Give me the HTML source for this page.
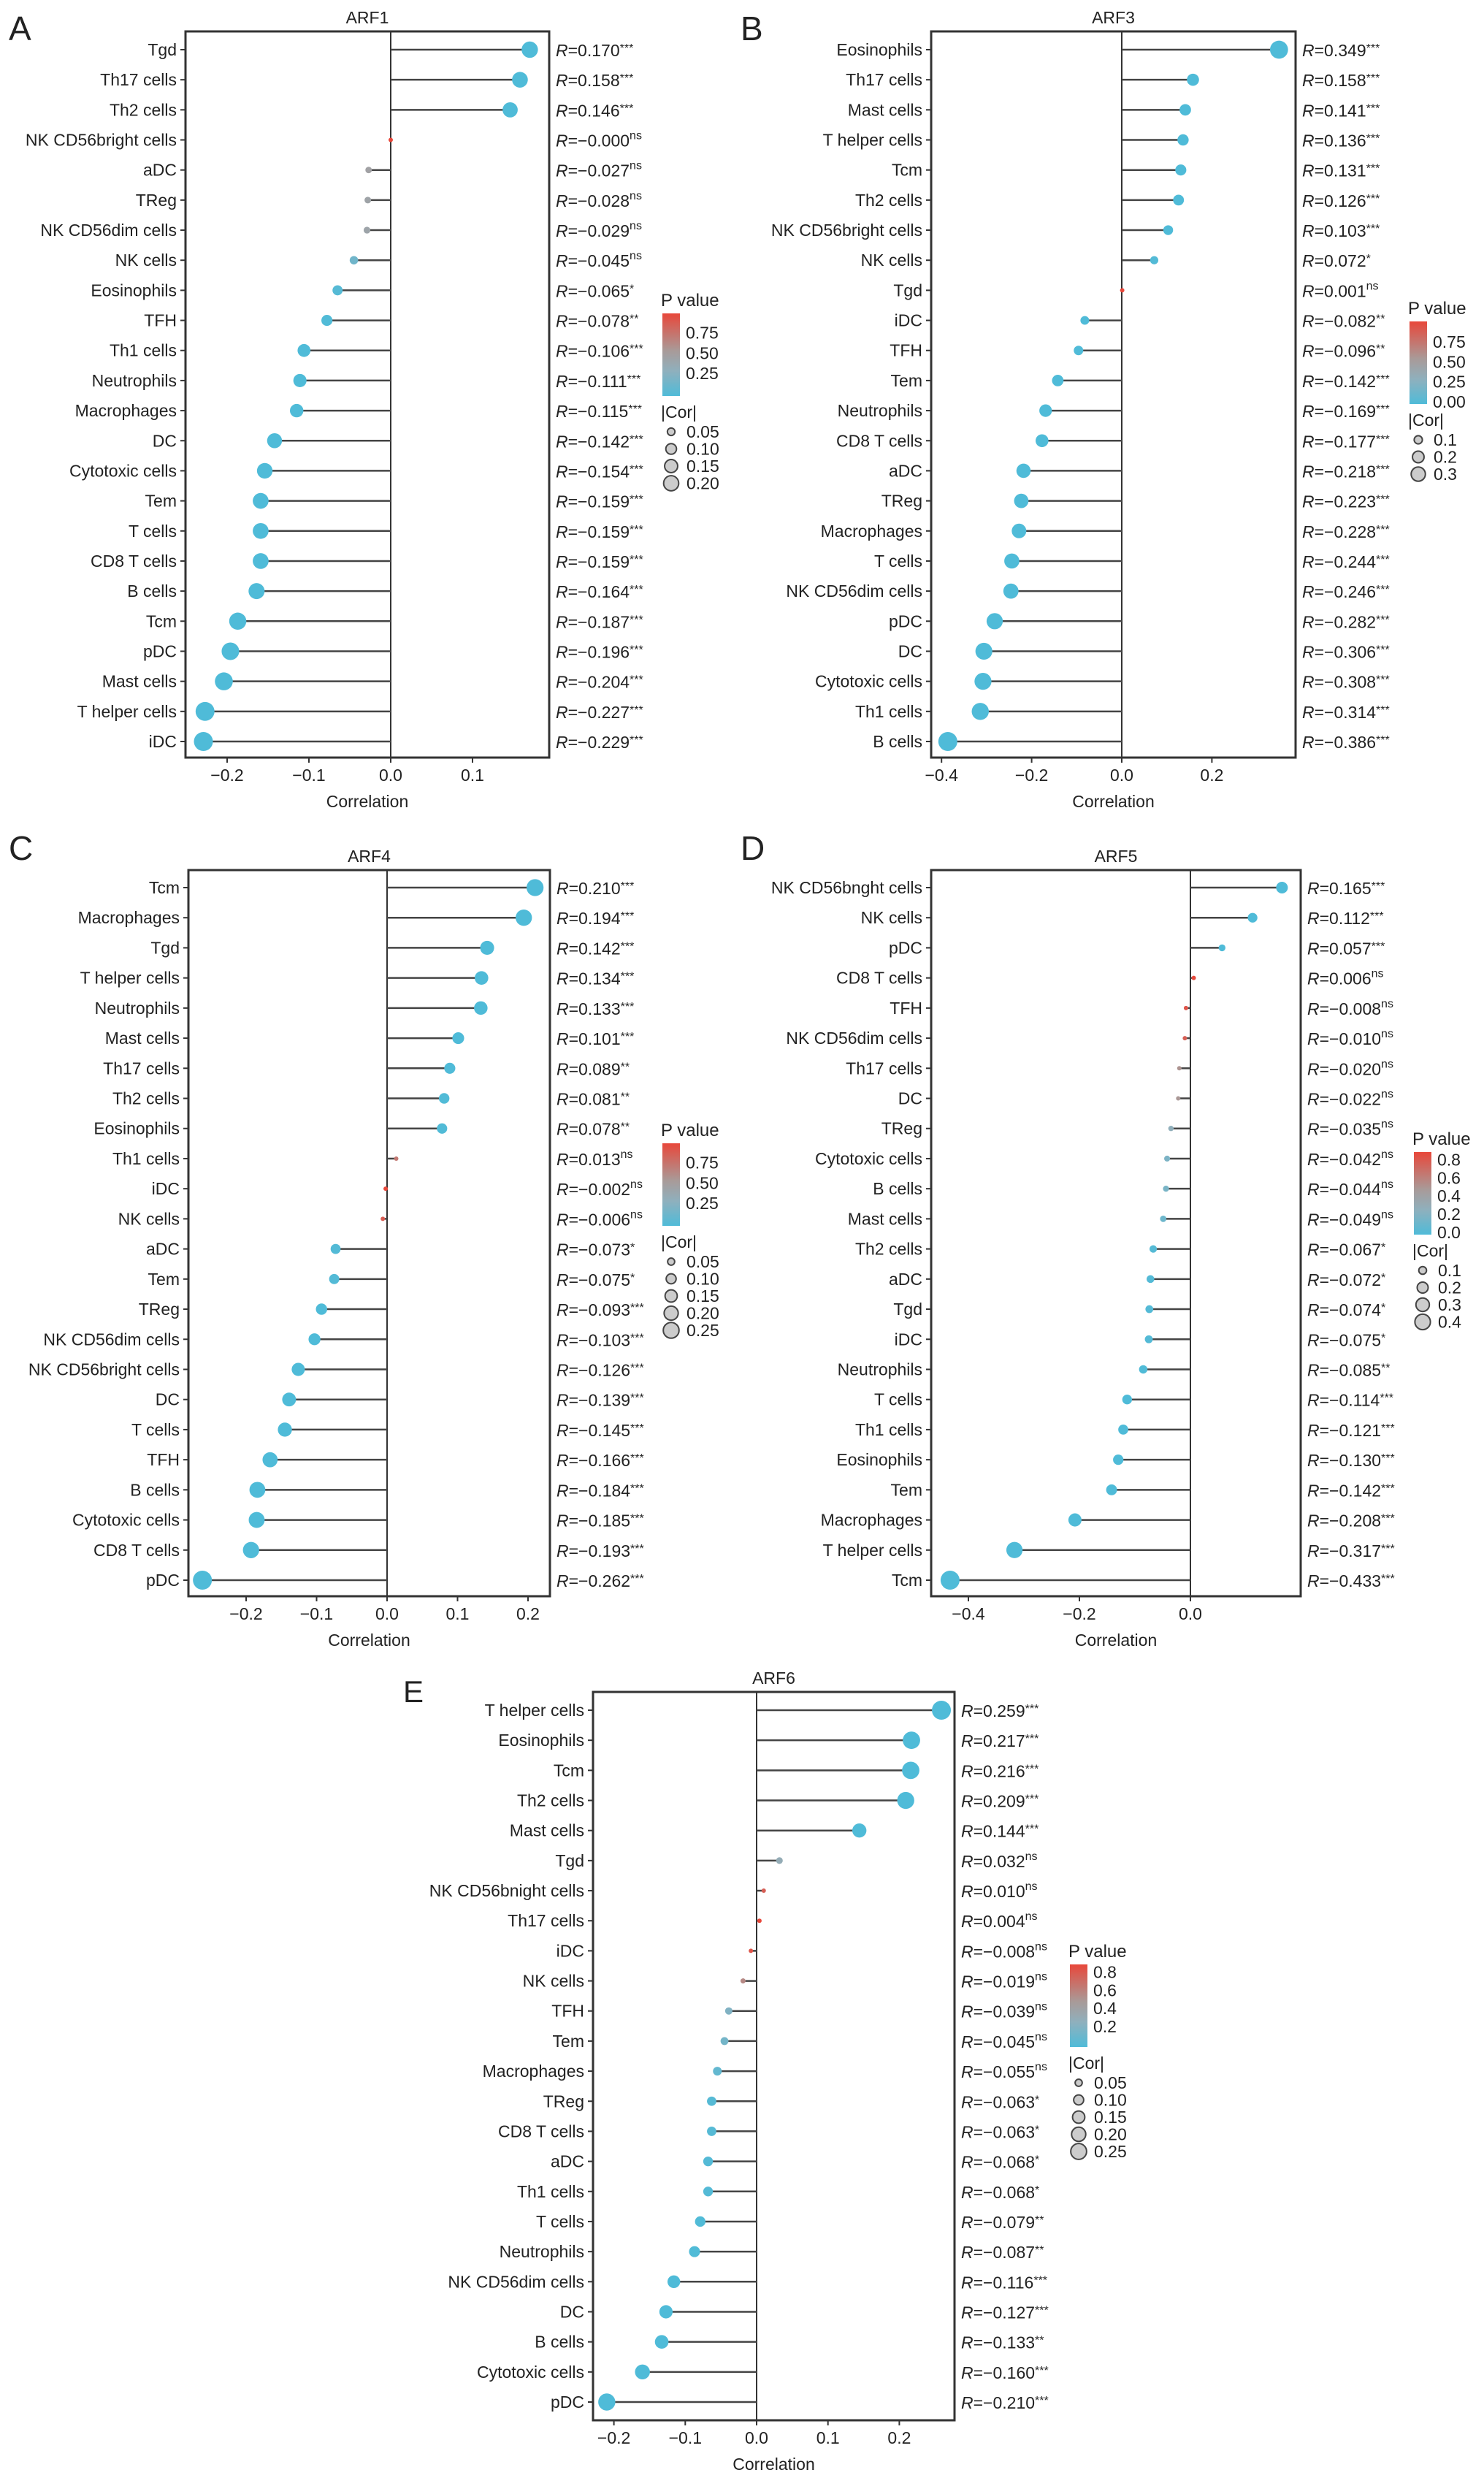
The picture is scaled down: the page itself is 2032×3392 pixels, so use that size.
<!DOCTYPE html>
<html><head><meta charset="utf-8"><style>
html,body{margin:0;padding:0;background:#fff}
svg{display:block}
text{font-family:"Liberation Sans",sans-serif;fill:#222}
.narrow text{font-family:"Liberation Sans Narrow","Liberation Sans",sans-serif}
</style></head><body>
<svg id="fig" width="2032" height="3392" viewBox="0 0 2032 3392" xmlns="http://www.w3.org/2000/svg">
<defs>
<linearGradient id="pgrad" x1="0" y1="1" x2="0" y2="0">
<stop offset="0" stop-color="#4fbbd8"/><stop offset="0.3" stop-color="#8fb0bd"/><stop offset="0.55" stop-color="#a99a98"/><stop offset="1" stop-color="#e8473a"/>
</linearGradient>
</defs>
</svg>
<script>
// ---------- Panel A : ARF1 ----------
const aCats=["Tgd","Th17 cells","Th2 cells","NK CD56bright cells","aDC","TReg","NK CD56dim cells","NK cells","Eosinophils","TFH","Th1 cells","Neutrophils","Macrophages","DC","Cytotoxic cells","Tem","T cells","CD8 T cells","B cells","Tcm","pDC","Mast cells","T helper cells","iDC"];
const aVals=[0.170,0.158,0.146,-0.000,-0.027,-0.028,-0.029,-0.045,-0.065,-0.078,-0.106,-0.111,-0.115,-0.142,-0.154,-0.159,-0.159,-0.159,-0.164,-0.187,-0.196,-0.204,-0.227,-0.229];
const aSig=["***","***","***","ns","ns","ns","ns","ns","*","**","***","***","***","***","***","***","***","***","***","***","***","***","***","***"];
const aP=[0,0,0,0.99,0.45,0.43,0.42,0.15,0.03,0.01,0,0,0,0,0,0,0,0,0,0,0,0,0,0];
const aTicks=[-0.2,-0.1,0.0,0.1];
const aPTicks=[0.25,0.50,0.75];
const aSizeTicks=[0.05,0.10,0.15,0.20];
// ---------- Panel B : ARF3 ----------
const bCats=["Eosinophils","Th17 cells","Mast cells","T helper cells","Tcm","Th2 cells","NK CD56bright cells","NK cells","Tgd","iDC","TFH","Tem","Neutrophils","CD8 T cells","aDC","TReg","Macrophages","T cells","NK CD56dim cells","pDC","DC","Cytotoxic cells","Th1 cells","B cells"];
const bVals=[0.349,0.158,0.141,0.136,0.131,0.126,0.103,0.072,0.001,-0.082,-0.096,-0.142,-0.169,-0.177,-0.218,-0.223,-0.228,-0.244,-0.246,-0.282,-0.306,-0.308,-0.314,-0.386];
const bSig=["***","***","***","***","***","***","***","*","ns","**","**","***","***","***","***","***","***","***","***","***","***","***","***","***"];
const bP=[0,0,0,0,0,0,0,0.02,0.98,0.005,0.003,0,0,0,0,0,0,0,0,0,0,0,0,0];
const bTicks=[-0.4,-0.2,0.0,0.2];
const bPTicks=[0.00,0.25,0.50,0.75];
const bSizeTicks=[0.1,0.2,0.3];
// ---------- Panel C : ARF4 ----------
const cCats=["Tcm","Macrophages","Tgd","T helper cells","Neutrophils","Mast cells","Th17 cells","Th2 cells","Eosinophils","Th1 cells","iDC","NK cells","aDC","Tem","TReg","NK CD56dim cells","NK CD56bright cells","DC","T cells","TFH","B cells","Cytotoxic cells","CD8 T cells","pDC"];
const cVals=[0.210,0.194,0.142,0.134,0.133,0.101,0.089,0.081,0.078,0.013,-0.002,-0.006,-0.073,-0.075,-0.093,-0.103,-0.126,-0.139,-0.145,-0.166,-0.184,-0.185,-0.193,-0.262];
const cSig=["***","***","***","***","***","***","**","**","**","ns","ns","ns","*","*","***","***","***","***","***","***","***","***","***","***"];
const cP=[0,0,0,0,0,0,0.005,0.008,0.01,0.7,0.95,0.85,0.02,0.02,0,0,0,0,0,0,0,0,0,0];
const cTicks=[-0.2,-0.1,0.0,0.1,0.2];
const cPTicks=[0.25,0.50,0.75];
const cSizeTicks=[0.05,0.10,0.15,0.20,0.25];
// ---------- Panel D : ARF5 ----------
const dCats=["NK CD56bnght cells","NK cells","pDC","CD8 T cells","TFH","NK CD56dim cells","Th17 cells","DC","TReg","Cytotoxic cells","B cells","Mast cells","Th2 cells","aDC","Tgd","iDC","Neutrophils","T cells","Th1 cells","Eosinophils","Tem","Macrophages","T helper cells","Tcm"];
const dVals=[0.165,0.112,0.057,0.006,-0.008,-0.010,-0.020,-0.022,-0.035,-0.042,-0.044,-0.049,-0.067,-0.072,-0.074,-0.075,-0.085,-0.114,-0.121,-0.130,-0.142,-0.208,-0.317,-0.433];
const dSig=["***","***","***","ns","ns","ns","ns","ns","ns","ns","ns","ns","*","*","*","*","**","***","***","***","***","***","***","***"];
const dP=[0,0,0,0.85,0.8,0.75,0.5,0.48,0.27,0.18,0.17,0.12,0.03,0.02,0.02,0.02,0.005,0,0,0,0,0,0,0];
const dTicks=[-0.4,-0.2,0.0];
const dPTicks=[0.0,0.2,0.4,0.6,0.8];
const dSizeTicks=[0.1,0.2,0.3,0.4];
// ---------- Panel E : ARF6 ----------
const eCats=["T helper cells","Eosinophils","Tcm","Th2 cells","Mast cells","Tgd","NK CD56bnight cells","Th17 cells","iDC","NK cells","TFH","Tem","Macrophages","TReg","CD8 T cells","aDC","Th1 cells","T cells","Neutrophils","NK CD56dim cells","DC","B cells","Cytotoxic cells","pDC"];
const eVals=[0.259,0.217,0.216,0.209,0.144,0.032,0.010,0.004,-0.008,-0.019,-0.039,-0.045,-0.055,-0.063,-0.063,-0.068,-0.068,-0.079,-0.087,-0.116,-0.127,-0.133,-0.160,-0.210];
const eSig=["***","***","***","***","***","ns","ns","ns","ns","ns","ns","ns","ns","*","*","*","*","**","**","***","***","**","***","***"];
const eP=[0,0,0,0,0,0.3,0.75,0.9,0.8,0.55,0.2,0.15,0.08,0.03,0.03,0.02,0.02,0.01,0.005,0,0,0.001,0,0];
const eTicks=[-0.2,-0.1,0.0,0.1,0.2];
const ePTicks=[0.2,0.4,0.6,0.8];
const eSizeTicks=[0.05,0.10,0.15,0.20,0.25];

const NS="http://www.w3.org/2000/svg";
const fig=document.getElementById('fig');
function mk(tag,attrs,parent){const e=document.createElementNS(NS,tag);for(const k in attrs)e.setAttribute(k,attrs[k]);(parent||fig).appendChild(e);return e;}
function lerp(a,b,t){return Math.round(a+(b-a)*t);}
function pColor(p,pmax){
  const stops=[[0,[79,187,216]],[0.3,[143,176,189]],[0.55,[169,154,152]],[1,[232,71,58]]];
  let t=Math.max(0,Math.min(1,p/pmax));
  for(let i=0;i<stops.length-1;i++){const [t0,c0]=stops[i],[t1,c1]=stops[i+1];
    if(t<=t1){const u=(t-t0)/(t1-t0);return `rgb(${lerp(c0[0],c1[0],u)},${lerp(c0[1],c1[1],u)},${lerp(c0[2],c1[2],u)})`;}}
  return 'rgb(232,71,58)';
}
function fmt(v){const s=Math.abs(v).toFixed(3);return (v<0||Object.is(v,-0)?'\u2212':'')+s;}
function tickFmt(v,dec){if(Math.abs(v)<1e-9)return (0).toFixed(dec);return (v<0?'\u2212':'')+Math.abs(v).toFixed(dec);}

function panel(o){
  const g=mk('g',{},fig);
  
  
  if(o.narrow)g.setAttribute('class','narrow');
  const n=o.cats.length;
  const x=v=>o.zx+v*o.unit*10;
  const y=i=>o.y0+i*(o.y1-o.y0)/(n-1);
  let maxc=0;o.vals.forEach(v=>maxc=Math.max(maxc,Math.abs(v)));
  const rad=c=>Math.max(3,o.rmax*Math.sqrt(Math.abs(c)/maxc));
  const L=mk('text',{x:o.lx,y:o.ly,'font-size':o.lfs||46},g);L.textContent=o.letter;
  
  const T=mk('text',{x:(o.left+o.right)/2,y:o.top-11,'font-size':23,'text-anchor':'middle'},g);T.textContent=o.title;
  
  const Z=mk('line',{x1:x(0),x2:x(0),y1:o.top,y2:o.bot,stroke:'#333','stroke-width':2},g);
  
  for(let i=0;i<n;i++){
    const yy=y(i);
    const lab=mk('text',{x:o.left-12,y:yy+8,'font-size':23,'text-anchor':'end'},g);lab.textContent=o.cats[i];
    
    const tk=mk('line',{x1:o.left-7,x2:o.left,y1:yy,y2:yy,stroke:'#333','stroke-width':2},g);
    
    const seg=mk('line',{x1:x(0),x2:x(o.vals[i]),y1:yy,y2:yy,stroke:'#444','stroke-width':2.5},g);
    
    const dot=mk('circle',{cx:x(o.vals[i]),cy:yy,r:rad(o.vals[i]),fill:pColor(o.p[i],o.pmax)},g);
    
    const rt=mk('text',{x:o.right+9,y:yy+9,'font-size':23},g);
    
    const r1=mk('tspan',{'font-style':'italic'},rt);r1.textContent='R';
    const r2=mk('tspan',{},rt);r2.textContent='='+fmt(o.vals[i]);
    const r3=mk('tspan',{'font-size':16,dy:o.sig[i]==='ns'?-10:-6},rt);r3.textContent=o.sig[i];
  }
  const box=mk('rect',{x:o.left,y:o.top,width:o.right-o.left,height:o.bot-o.top,fill:'none',stroke:'#333','stroke-width':3},g);
  
  o.ticks.forEach(t=>{
    const l=mk('line',{x1:x(t),x2:x(t),y1:o.bot,y2:o.bot+7,stroke:'#333','stroke-width':2},g);
    
    const tx=mk('text',{x:x(t),y:o.bot+32,'font-size':23,'text-anchor':'middle'},g);tx.textContent=tickFmt(t,1);
    
  });
  const xt=mk('text',{x:(o.left+o.right)/2,y:o.bot+68,'font-size':23,'text-anchor':'middle'},g);xt.textContent='Correlation';
  
  const lg=mk('g',{},g);
  const pv=mk('text',{x:o.gx-2,y:o.gy+9,'font-size':24},lg);pv.textContent='P value';
  
  const cbTop=o.gy+19,cbBot=o.gy+132;
  const cb=mk('rect',{x:o.gx,y:cbTop,width:24,height:cbBot-cbTop,fill:'url(#pgrad)'},lg);
  
  const py=p=>cbBot-3-(p/o.pmax)*(cbBot-cbTop-6);
  o.pticks.forEach(p=>{
    const t=mk('text',{x:o.gx+32,y:py(p)+8,'font-size':23},lg);t.textContent=p.toFixed(o.pdec);
    
  });
  const ct=mk('text',{x:o.gx-2,y:o.gy+162,'font-size':23},lg);ct.textContent='|Cor|';
  
  o.sizes.forEach((s,k)=>{
    const cy=o.gy+181+k*23.5;
    const c=mk('circle',{cx:o.gx+12,cy:cy,r:rad(s)*0.85,fill:'#ccc',stroke:'#444','stroke-width':2},lg);
    
    const t=mk('text',{x:o.gx+33,y:cy+8,'font-size':23},lg);t.textContent=s.toFixed(o.sdec);
    
  });
}
panel({letter:'A',title:'ARF1',lx:12,ly:55,cats:aCats,vals:aVals,sig:aSig,p:aP,pmax:0.96,ticks:aTicks,pticks:aPTicks,pdec:2,sizes:aSizeTicks,sdec:2,
  left:254,right:752,top:43,bot:1037,zx:535,unit:112,y0:68,y1:1015,rmax:13,gx:907,gy:410});
panel({letter:'B',title:'ARF3',lx:1014,ly:55,cats:bCats,vals:bVals,sig:bSig,p:bP,pmax:0.98,ticks:bTicks,pticks:bPTicks,pdec:2,sizes:bSizeTicks,sdec:1,
  left:1275,right:1774,top:43,bot:1037,zx:1536,unit:61.7,y0:68,y1:1015,rmax:13,gx:1930,gy:421});
panel({letter:'C',title:'ARF4',lx:12,ly:1177,cats:cCats,vals:cVals,sig:cSig,p:cP,pmax:0.96,ticks:cTicks,pticks:cPTicks,pdec:2,sizes:cSizeTicks,sdec:2,
  left:258,right:753,top:1191,bot:2185,zx:530,unit:96.5,y0:1215,y1:2163,rmax:13,gx:907,gy:1546});
panel({letter:'D',title:'ARF5',lx:1014,ly:1177,cats:dCats,vals:dVals,sig:dSig,p:dP,pmax:0.86,ticks:dTicks,pticks:dPTicks,pdec:1,sizes:dSizeTicks,sdec:1,
  left:1275,right:1781,top:1191,bot:2185,zx:1630,unit:76,y0:1215,y1:2163,rmax:13,gx:1936,gy:1558});
panel({letter:'E',title:'ARF6',lx:552,ly:2330,lfs:42,narrow:true,cats:eCats,vals:eVals,sig:eSig,p:eP,pmax:0.86,ticks:eTicks,pticks:ePTicks,pdec:1,sizes:eSizeTicks,sdec:2,
  left:812,right:1307,top:2316,bot:3313,zx:1036,unit:97.7,y0:2341,y1:3288,rmax:13,gx:1465,gy:2670});
</script>
</body></html>
